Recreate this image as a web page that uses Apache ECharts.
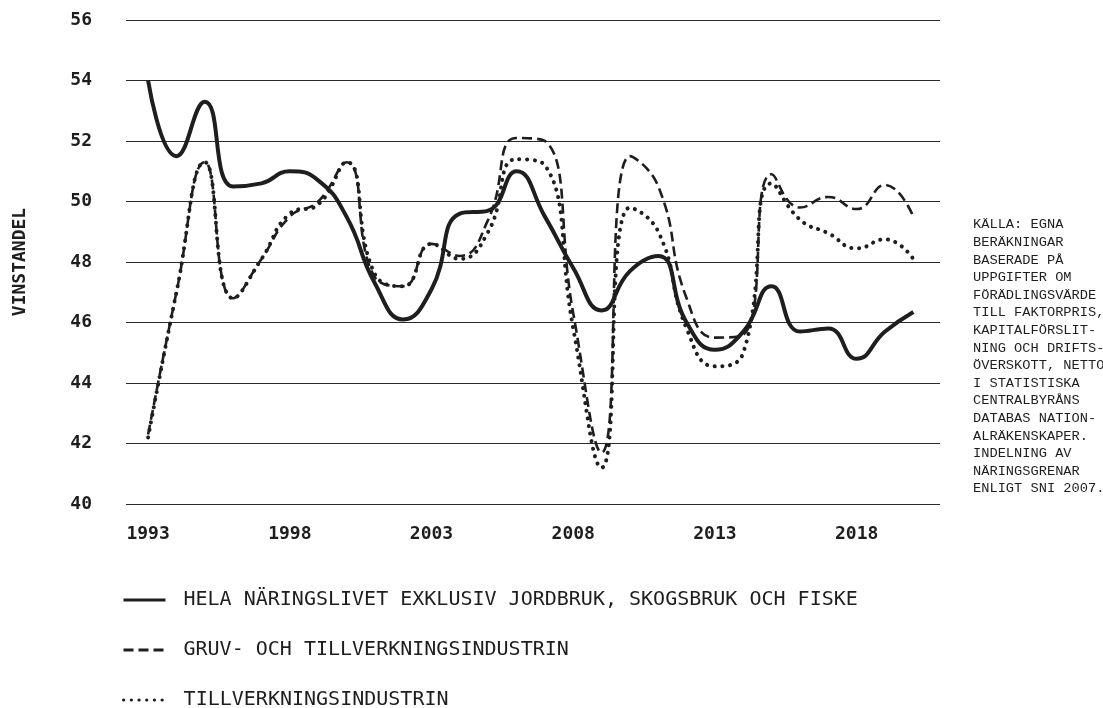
<!DOCTYPE html>
<html style="height: 100%">

<head>
	<meta charset="utf-8">
</head>

<body style="height: 100%; margin: 0; background: #fff">
	<div id="container" style="width: 1103px; height: 708px;"></div>

	<script type="text/javascript" src="https://cdn.jsdelivr.net/npm/echarts@6/dist/echarts.min.js"></script>
	<script type="text/javascript">
		// data
		let years = [1993, 1994, 1995, 1996, 1997, 1998, 1999, 2000, 2001, 2002, 2003, 2004, 2005, 2006,
			2007, 2008, 2009, 2010, 2011, 2012, 2013, 2014, 2015, 2016, 2017, 2018, 2019, 2020];
		let hela = [54.0, 51.5, 53.3, 50.5, 50.6, 51.0, 50.7, 49.5, 47.3, 46.1, 47.1, 49.6, 49.7, 51.0,
			49.5, 47.8, 46.4, 47.7, 48.2, 46.0, 45.1, 45.7, 47.2, 45.7, 45.8, 44.8, 45.7, 46.35];
		let gruv = [42.3, 47.0, 51.3, 46.8, 48.1, 49.5, 50.0, 51.3, 47.5, 47.2, 48.6, 48.2, 49.4, 52.1,
			52.0, 46.3, 41.7, 51.5, 50.5, 46.8, 45.5, 45.6, 50.9, 49.8, 50.15, 49.75, 50.55, 49.5];
		let tillv = [42.2, 47.0, 51.3, 46.8, 48.1, 49.6, 49.9, 51.3, 47.6, 47.2, 48.6, 48.1, 49.0, 51.4,
			51.2, 45.8, 41.2, 49.8, 49.0, 45.8, 44.55, 45.0, 50.6, 49.4, 48.95, 48.45, 48.75, 48.1];
		let xTicks = [1993, 1998, 2003, 2008, 2013, 2018];
		let names = [
			'HELA NÄRINGSLIVET EXKLUSIV JORDBRUK, SKOGSBRUK OCH FISKE',
			'GRUV- OCH TILLVERKNINGSINDUSTRIN',
			'TILLVERKNINGSINDUSTRIN'
		];
		let noteLines = ['KÄLLA: EGNA', 'BERÄKNINGAR', 'BASERADE PÅ', 'UPPGIFTER OM', 'FÖRÄDLINGSVÄRDE',
			'TILL FAKTORPRIS,', 'KAPITALFÖRSLIT-', 'NING OCH DRIFTS-', 'ÖVERSKOTT, NETTO', 'I STATISTISKA',
			'CENTRALBYRÅNS', 'DATABAS NATION-', 'ALRÄKENSKAPER.', 'INDELNING AV', 'NÄRINGSGRENAR', 'ENLIGT SNI 2007.'];

		let ink = '#1e1e1e';
		let mono = '"DejaVu Sans Mono", monospace';
		let clear = 'rgba(0,0,0,0)';

		function pairs(vals) {
			return years.map(function (y, i) { return [y, vals[i]]; });
		}

		// one legend per row so rows sit exactly where the reference has them
		function legendRow(name, top, lineW) {
			return {
				orient: 'horizontal',
				left: 122,
				top: top,
				padding: 0,
				itemWidth: 42,
				itemHeight: 14,
				itemStyle: { color: clear, borderColor: clear, borderWidth: 0 },
				lineStyle: { width: lineW },
				textStyle: { fontFamily: mono, fontSize: 20, color: ink, padding: [0, 0, 0, 13] },
				data: [name]
			};
		}

		let dom = document.getElementById("container");
		let myChart = echarts.init(dom, null, { renderer: 'canvas' });

		let option = {
			animation: false,
			backgroundColor: '#fff',
			grid: { left: 126, right: 163, top: 20, bottom: 204, outerBoundsMode: 'none', containLabel: false },
			legend: [legendRow(names[0], 590, 3), legendRow(names[1], 640, 3), legendRow(names[2], 690, 3.2)],
			xAxis: {
				type: 'value',
				min: 1992.22,
				max: 2020.94,
				axisLine: { show: false },
				axisTick: { show: false },
				splitLine: { show: false },
				axisLabel: {
					customValues: xTicks,
					margin: 21,
					fontFamily: mono,
					fontWeight: 'bold',
					fontSize: 18,
					color: ink,
					formatter: function (v) { return String(v); }
				}
			},
			yAxis: {
				type: 'value',
				min: 40,
				max: 56,
				interval: 2,
				name: 'VINSTANDEL',
				nameLocation: 'middle',
				nameRotate: 90,
				nameGap: 97,
				nameTextStyle: { fontFamily: mono, fontWeight: 'bold', fontSize: 18, color: ink },
				axisLine: { show: false },
				axisTick: { show: false },
				axisLabel: { margin: 34, fontFamily: mono, fontWeight: 'bold', fontSize: 18, color: ink },
				splitLine: { lineStyle: { color: '#2a2a2a', width: 1 } }
			},
			graphic: [{
				type: 'text',
				left: 973,
				top: 216,
				style: {
					text: noteLines.join('\n'),
					font: '13.7px "Liberation Mono", monospace',
					lineHeight: 17.6,
					fill: ink
				}
			}],
			series: [
				{
					name: names[1],
					type: 'line',
					data: pairs(gruv),
					smooth: 0.5,
					symbol: 'none',
					z: 2,
					lineStyle: { color: ink, width: 2.6, type: [10, 5] },
					itemStyle: { color: ink }
				},
				{
					name: names[2],
					type: 'line',
					data: pairs(tillv),
					smooth: 0.5,
					symbol: 'none',
					z: 3,
					lineStyle: { color: ink, width: 4, type: [0.1, 7.6], cap: 'round' },
					itemStyle: { color: ink }
				},
				{
					name: names[0],
					type: 'line',
					data: pairs(hela),
					smooth: 0.5,
					symbol: 'none',
					z: 4,
					lineStyle: { color: ink, width: 4 },
					itemStyle: { color: ink }
				}
			]
		};

		myChart.setOption(option, true);
	</script>
</body>

</html>
